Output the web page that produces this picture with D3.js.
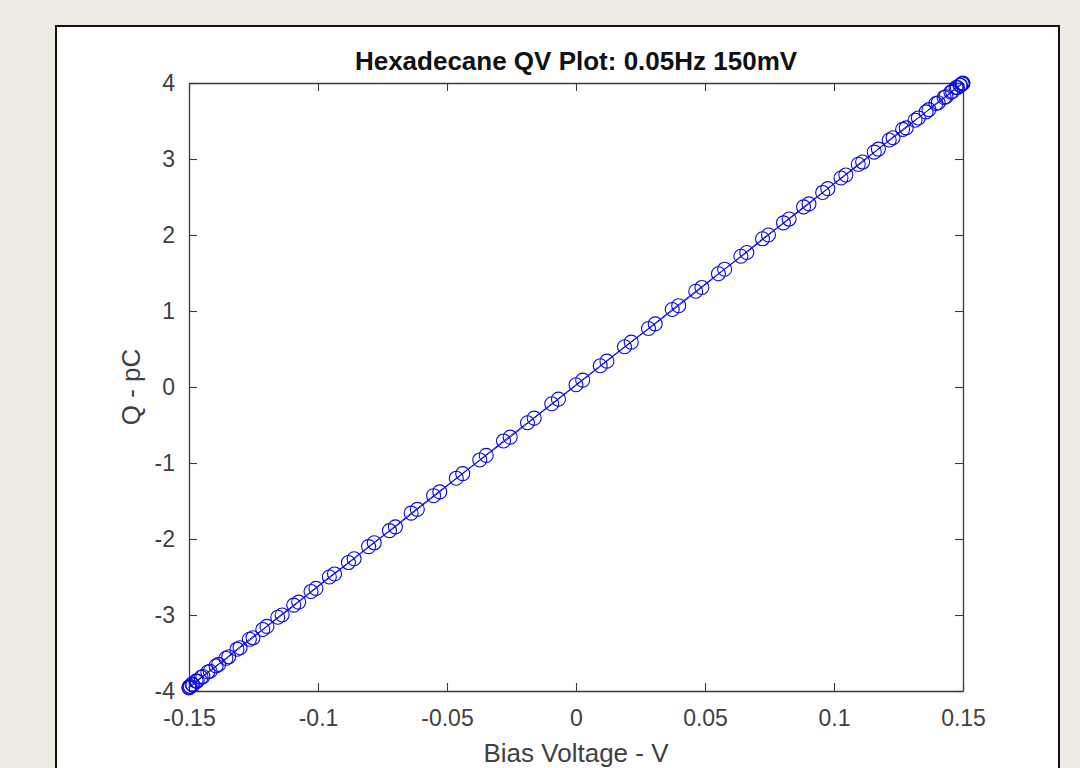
<!DOCTYPE html>
<html lang="en">
  <head>
    <meta charset="utf-8" />
    <title>Hexadecane QV plot</title>
    <script type="text/javascript" src="https://d3js.org/d3.v7.min.js"></script>
    <style>
      html, body { margin: 0; padding: 0; background: #eeebe4; }
      svg { display: block; }
    </style>
  </head>
  <body>
    <div id="graph"></div>

    <script type="text/javascript">
      /***************
       * data
       ***************/

      // falling sweep: +0.15 V -> -0.15 V
      const downVoltage = [0.15, 0.1497, 0.1488, 0.1473, 0.1453, 0.1427, 0.1395, 0.1357, 0.1314, 0.1266,
        0.1214, 0.1156, 0.1094, 0.1027, 0.0956, 0.0882, 0.0804, 0.0723, 0.0639, 0.0552,
        0.0464, 0.0373, 0.0281, 0.0188, 0.0094, 0, -0.0094, -0.0188, -0.0281, -0.0373,
        -0.0464, -0.0552, -0.0639, -0.0723, -0.0804, -0.0882, -0.0956, -0.1027, -0.1094, -0.1156,
        -0.1214, -0.1266, -0.1314, -0.1357, -0.1395, -0.1427, -0.1453, -0.1473, -0.1488, -0.1497, -0.15];
      const downCharge = [4.0, 3.99, 3.97, 3.94, 3.88, 3.81, 3.73, 3.62, 3.51, 3.39,
        3.25, 3.09, 2.93, 2.75, 2.56, 2.37, 2.16, 1.95, 1.72, 1.49,
        1.26, 1.02, 0.77, 0.53, 0.28, 0.03, -0.22, -0.47, -0.71, -0.96,
        -1.2, -1.43, -1.66, -1.89, -2.1, -2.31, -2.5, -2.69, -2.87, -3.03,
        -3.19, -3.32, -3.45, -3.57, -3.67, -3.75, -3.82, -3.87, -3.91, -3.94, -3.95];

      // rising sweep: -0.15 V -> +0.15 V
      const upVoltage = [-0.15, -0.1495, -0.1485, -0.1468, -0.1446, -0.1418, -0.1385, -0.1346, -0.1302, -0.1252,
        -0.1198, -0.1139, -0.1075, -0.1008, -0.0936, -0.086, -0.0782, -0.07, -0.0615, -0.0528,
        -0.0439, -0.0348, -0.0255, -0.0162, -0.0068, 0.0026, 0.012, 0.0214, 0.0307, 0.0398,
        0.0488, 0.0576, 0.0662, 0.0746, 0.0826, 0.0903, 0.0976, 0.1046, 0.1111, 0.1172,
        0.1229, 0.128, 0.1327, 0.1368, 0.1404, 0.1434, 0.1459, 0.1478, 0.1491, 0.1498];
      const upCharge = [-3.96, -3.94, -3.92, -3.87, -3.81, -3.74, -3.65, -3.55, -3.43, -3.3,
        -3.15, -3.0, -2.83, -2.65, -2.46, -2.26, -2.05, -1.84, -1.61, -1.38,
        -1.14, -0.9, -0.66, -0.41, -0.16, 0.09, 0.34, 0.59, 0.83, 1.07,
        1.31, 1.55, 1.77, 2.0, 2.21, 2.41, 2.61, 2.79, 2.96, 3.13,
        3.28, 3.41, 3.54, 3.65, 3.74, 3.82, 3.89, 3.94, 3.97, 3.99];

      const xTicks = [-0.15, -0.1, -0.05, 0, 0.05, 0.1, 0.15];
      const yTicks = [-4, -3, -2, -1, 0, 1, 2, 3, 4];

      const points = downVoltage.map((v, i) => ({ v: v, q: downCharge[i] }))
        .concat(upVoltage.map((v, i) => ({ v: v, q: upCharge[i] })));

      /***************************
       * create svg
       **************************/

      const width = 1080;
      const height = 768;
      const margin = { top: 83, right: 117, bottom: 77, left: 189 };
      const plotW = width - margin.left - margin.right;
      const plotH = height - margin.top - margin.bottom;

      const svg = d3
        .select("div#graph")
        .append("svg")
        .attr("width", width)
        .attr("height", height);

      // white figure panel
      svg.append("rect")
        .attr("x", 56)
        .attr("y", 26)
        .attr("width", 1003)
        .attr("height", 760)
        .attr("fill", "#ffffff")
        .attr("stroke", "#111")
        .attr("stroke-width", 2);

      const g = svg.append("g")
        .attr("transform", "translate(" + margin.left + "," + margin.top + ")");

      /********************
       * scale
       ********************/

      const x = d3.scaleLinear().domain([-0.15, 0.15]).range([0, plotW]);
      const y = d3.scaleLinear().domain([-4, 4]).range([plotH, 0]);

      /********************
       * axes (box on, ticks inside)
       ********************/

      const axisColor = "#3a3a3a";
      const textColor = "#404040";
      const fontFam = "Liberation Sans, Arial, Helvetica, sans-serif";

      function styleAxis(sel) {
        sel.select(".domain").attr("stroke", axisColor).attr("stroke-width", 1.3);
        sel.selectAll(".tick line").attr("stroke", axisColor).attr("stroke-width", 1.1);
        sel.selectAll(".tick text")
          .attr("fill", textColor)
          .style("font-family", fontFam)
          .style("font-size", "23px");
      }

      const plain = d => String(d); // hyphen minus like matlab

      g.append("g")
        .attr("transform", "translate(0," + plotH + ")")
        .call(d3.axisBottom(x).tickValues(xTicks).tickSizeInner(-8).tickSizeOuter(0)
          .tickPadding(19).tickFormat(plain))
        .call(styleAxis);

      g.append("g")
        .call(d3.axisTop(x).tickValues(xTicks).tickSizeInner(-8).tickSizeOuter(0).tickFormat(""))
        .call(styleAxis);

      g.append("g")
        .call(d3.axisLeft(y).tickValues(yTicks).tickSizeInner(-8).tickSizeOuter(0)
          .tickPadding(14).tickFormat(plain))
        .call(styleAxis);

      g.append("g")
        .attr("transform", "translate(" + plotW + ",0)")
        .call(d3.axisRight(y).tickValues(yTicks).tickSizeInner(-8).tickSizeOuter(0).tickFormat(""))
        .call(styleAxis);

      /********************
       * line + circle markers
       ********************/

      const blue = "#0a0ae0";

      const line = d3.line().x(d => x(d.v)).y(d => y(d.q));

      g.append("path")
        .datum(points)
        .attr("fill", "none")
        .attr("stroke", blue)
        .attr("stroke-width", 1)
        .attr("d", line);

      g.selectAll("circle.pt")
        .data(points)
        .enter()
        .append("circle")
        .attr("class", "pt")
        .attr("cx", d => x(d.v))
        .attr("cy", d => y(d.q))
        .attr("r", 7)
        .attr("fill", "none")
        .attr("stroke", blue)
        .attr("stroke-width", 1.1);

      /********************
       * labels
       ********************/

      svg.append("text")
        .attr("x", margin.left + plotW / 2)
        .attr("y", 70)
        .attr("text-anchor", "middle")
        .style("font-family", fontFam)
        .style("font-weight", "bold")
        .style("font-size", "26px")
        .attr("fill", "#111")
        .text("Hexadecane QV Plot: 0.05Hz 150mV");

      svg.append("text")
        .attr("x", margin.left + plotW / 2)
        .attr("y", 762)
        .attr("text-anchor", "middle")
        .style("font-family", fontFam)
        .style("font-size", "26px")
        .attr("fill", textColor)
        .text("Bias Voltage - V");

      svg.append("text")
        .attr("transform", "translate(140," + (margin.top + plotH / 2) + ") rotate(-90)")
        .attr("text-anchor", "middle")
        .style("font-family", fontFam)
        .style("font-size", "26px")
        .attr("fill", textColor)
        .text("Q - pC");
    </script>
  </body>
</html>
